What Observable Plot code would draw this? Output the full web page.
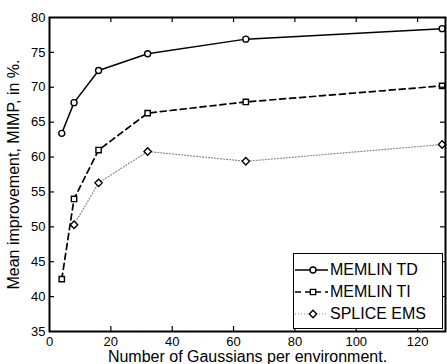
<!DOCTYPE html>
<html><head><meta charset="utf-8">
<script src="https://cdn.jsdelivr.net/npm/d3@7"></script>
<script src="https://cdn.jsdelivr.net/npm/@observablehq/plot@0.6"></script>
<style>
body{margin:0;background:#fff;font-family:"Liberation Sans",Arial,sans-serif;}
#wrap{position:relative;width:447px;height:364px;overflow:hidden;}
#legend{position:absolute;left:293px;top:253px;width:150px;height:76px;border:1.3px solid #000;background:#fff;font-size:16px;box-sizing:border-box;}
#legend .row{position:absolute;left:0;height:20px;display:flex;align-items:center;}
#legend svg{display:block}
</style>
</head><body>
<div id="wrap"><div id="chart"></div><div id="legend"></div></div>
<script>
const gaussians = [4, 8, 16, 32, 64, 128];
const memlinTD = [63.4, 67.8, 72.4, 74.8, 76.9, 78.4];
const memlinTI = [42.5, 54.0, 61.0, 66.3, 67.9, 70.2];
const spliceX = [8, 16, 32, 64, 128];
const spliceEMS = [50.3, 56.3, 60.8, 59.4, 61.8];
const xTicks = [0, 20, 40, 60, 80, 100, 120];
const yTicks = [35, 40, 45, 50, 55, 60, 65, 70, 75, 80];

const td = gaussians.map((x, i) => ({x, y: memlinTD[i]}));
const ti = gaussians.map((x, i) => ({x, y: memlinTI[i]}));
const se = spliceX.map((x, i) => ({x, y: spliceEMS[i]}));

const series = [
  {name: "MEMLIN TD", data: td, symbol: "circle", r: 3, dash: null, color: "#000", lw: 1.5},
  {name: "MEMLIN TI", data: ti, symbol: "square", r: 3, dash: "6,4", color: "#000", lw: 1.7},
  {name: "SPLICE EMS", data: se, symbol: "diamond2", r: 3.3, dash: "1,2", color: "#888", lw: 1.2}
];

const marks = [];
for (const s of series) {
  marks.push(Plot.line(s.data, {x: "x", y: "y", stroke: s.color, strokeWidth: s.lw, strokeDasharray: s.dash}));
}
for (const s of series) {
  marks.push(Plot.dot(s.data, {x: "x", y: "y", symbol: s.symbol, r: s.r, stroke: "#000", fill: "white", strokeWidth: 1.4}));
}
// inward ticks
const H = 331 - 17, W = 445 - 49;
marks.push(Plot.tickX(xTicks.slice(1), {x: d => d, insetTop: H - 5, stroke: "#000", strokeWidth: 1.2}));
marks.push(Plot.tickX(xTicks.slice(1), {x: d => d, insetBottom: H - 5, stroke: "#000", strokeWidth: 1.2}));
marks.push(Plot.tickY(yTicks.slice(1, -1), {y: d => d, insetLeft: W - 5, stroke: "#000", strokeWidth: 1.2}));
marks.push(Plot.tickY(yTicks.slice(1, -1), {y: d => d, insetRight: W - 5, stroke: "#000", strokeWidth: 1.2}));
marks.push(Plot.axisX(xTicks, {tickSize: 0, tickPadding: 5, fontSize: 13, label: null}));
marks.push(Plot.axisY(yTicks, {tickSize: 0, tickPadding: 4, fontSize: 13, label: null}));
marks.push(Plot.frame({stroke: "#000", strokeWidth: 2}));
marks.push(Plot.text(["Number of Gaussians per environment."], {frameAnchor: "bottom", lineAnchor: "middle", textAnchor: "middle", dy: 25, fontSize: 16, fill: "#000"}));
marks.push(Plot.text(["Mean improvement, MIMP, in %."], {frameAnchor: "left", lineAnchor: "middle", textAnchor: "middle", rotate: -90, dx: -36, fontSize: 16, fill: "#000"}));

const chart = Plot.plot({
  width: 447, height: 364,
  marginLeft: 49, marginTop: 17, marginRight: 2, marginBottom: 33,
  style: {fontFamily: "Liberation Sans, Arial, sans-serif", color: "#000", background: "#fff", overflow: "visible"},
  x: {domain: [0, 129.1]},
  y: {domain: [35, 80]},
  marks
});
document.getElementById("chart").appendChild(chart);

// legend
const legend = document.getElementById("legend");
series.forEach((s, i) => {
  const row = document.createElement("div");
  row.className = "row";
  row.style.top = (6 + i * 22) + "px";
  const sw = d3.create("svg").attr("width", 36).attr("height", 20);
  sw.append("line").attr("x1", 1).attr("x2", 34).attr("y1", 10).attr("y2", 10)
    .attr("stroke", s.color).attr("stroke-width", s.lw).attr("stroke-dasharray", s.dash);
  const sym = s.symbol === "circle" ? d3.symbolCircle : s.symbol === "square" ? d3.symbolSquare : d3.symbolDiamond2;
  sw.append("path").attr("transform", "translate(19,10)")
    .attr("d", d3.symbol(sym, Math.PI * s.r * s.r)())
    .attr("fill", "white").attr("stroke", "#000").attr("stroke-width", 1.4);
  row.appendChild(sw.node());
  const t = document.createElement("span");
  t.textContent = s.name;
  row.appendChild(t);
  legend.appendChild(row);
});
</script>
</body></html>
